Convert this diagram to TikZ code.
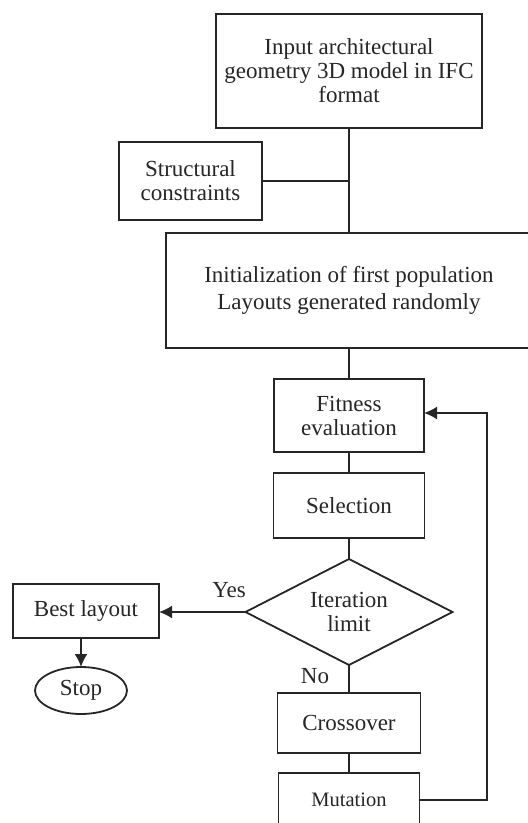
\documentclass[tikz,border=0pt]{standalone}
\usepackage{xcolor}
\usepackage{fontspec}
\setmainfont{Liberation Serif}
\usetikzlibrary{positioning,shapes.geometric,arrows.meta}

\begin{document}
\begin{tikzpicture}[x=1pt,y=-1pt,font=\fontsize{23}{24}\selectfont,text=black!85,
box/.style={rectangle,draw=black!85,fill=white,line width=1.8pt,
inner sep=0pt,outer sep=0pt,align=center},
decision/.style={diamond,draw=black!85,fill=white,line width=1.8pt,
inner sep=0pt,outer sep=0pt,aspect=1.95,align=center},
terminal/.style={ellipse,draw=black!85,fill=white,line width=1.8pt,
inner sep=0pt,outer sep=0pt},
link/.style={draw=black!85,line width=1.8pt},
arrow/.style={link,-{Latex[length=13pt,width=13pt]}}]
    \useasboundingbox (0,0) rectangle (528,823);
    \clip (0,0) rectangle (528,823);
    % main column
    \node[box,minimum width=266pt,minimum height=114pt] (input) at (349,71)
        {Input architectural\\geometry 3D model in IFC\\format};
    \node[box,minimum width=143pt,minimum height=78pt] (constraints) at (190.5,181)
        {Structural\\constraints};
    \node[box,minimum width=366pt,minimum height=115pt] (init) [below=105pt of input]
        {Initialization of first population\\[3pt]Layouts generated randomly};
    \node[box,minimum width=150pt,minimum height=73pt] (fitness) [below=31pt of init]
        {Fitness\\evaluation};
    \node[box,minimum width=151pt,minimum height=65pt] (selection) [below=21pt of fitness]
        {Selection};
    \node[decision,minimum width=207pt,minimum height=106pt] (limit) [below=21pt of selection]
        {Iteration\\limit};
    \node[box,minimum width=143pt,minimum height=60pt] (crossover) [below=28pt of limit]
        {Crossover};
    \node[box,minimum width=141pt,minimum height=54pt,font=\fontsize{20.5}{22}\selectfont]
        (mutation) [below=20pt of crossover] {Mutation};
    % exit branch
    \node[box,minimum width=146pt,minimum height=54pt] (best) at (86,611) {Best layout};
    \node[terminal,minimum width=92pt,minimum height=47pt] (stop) at (81,690.5) {Stop};
    \node (yes) at (229,590) {Yes};
    \node (no) at (315,676) {No};
    \coordinate (back) at (487,413);

    \draw[link] (input) -- (init);
    \draw[link] (constraints) -- (constraints -| input);
    \draw[link] (init) -- (fitness);
    \draw[link] (fitness) -- (selection);
    \draw[link] (selection) -- (limit);
    \draw[link] (limit) -- (crossover);
    \draw[link] (crossover) -- (mutation);
    \draw[arrow] (limit.west) -- (best.east |- limit.west);
    \draw[arrow] (best.south -| stop) -- (stop);
    \draw[arrow] (mutation.east) -| (back) -- (fitness.east |- back);
\end{tikzpicture}
\end{document}
